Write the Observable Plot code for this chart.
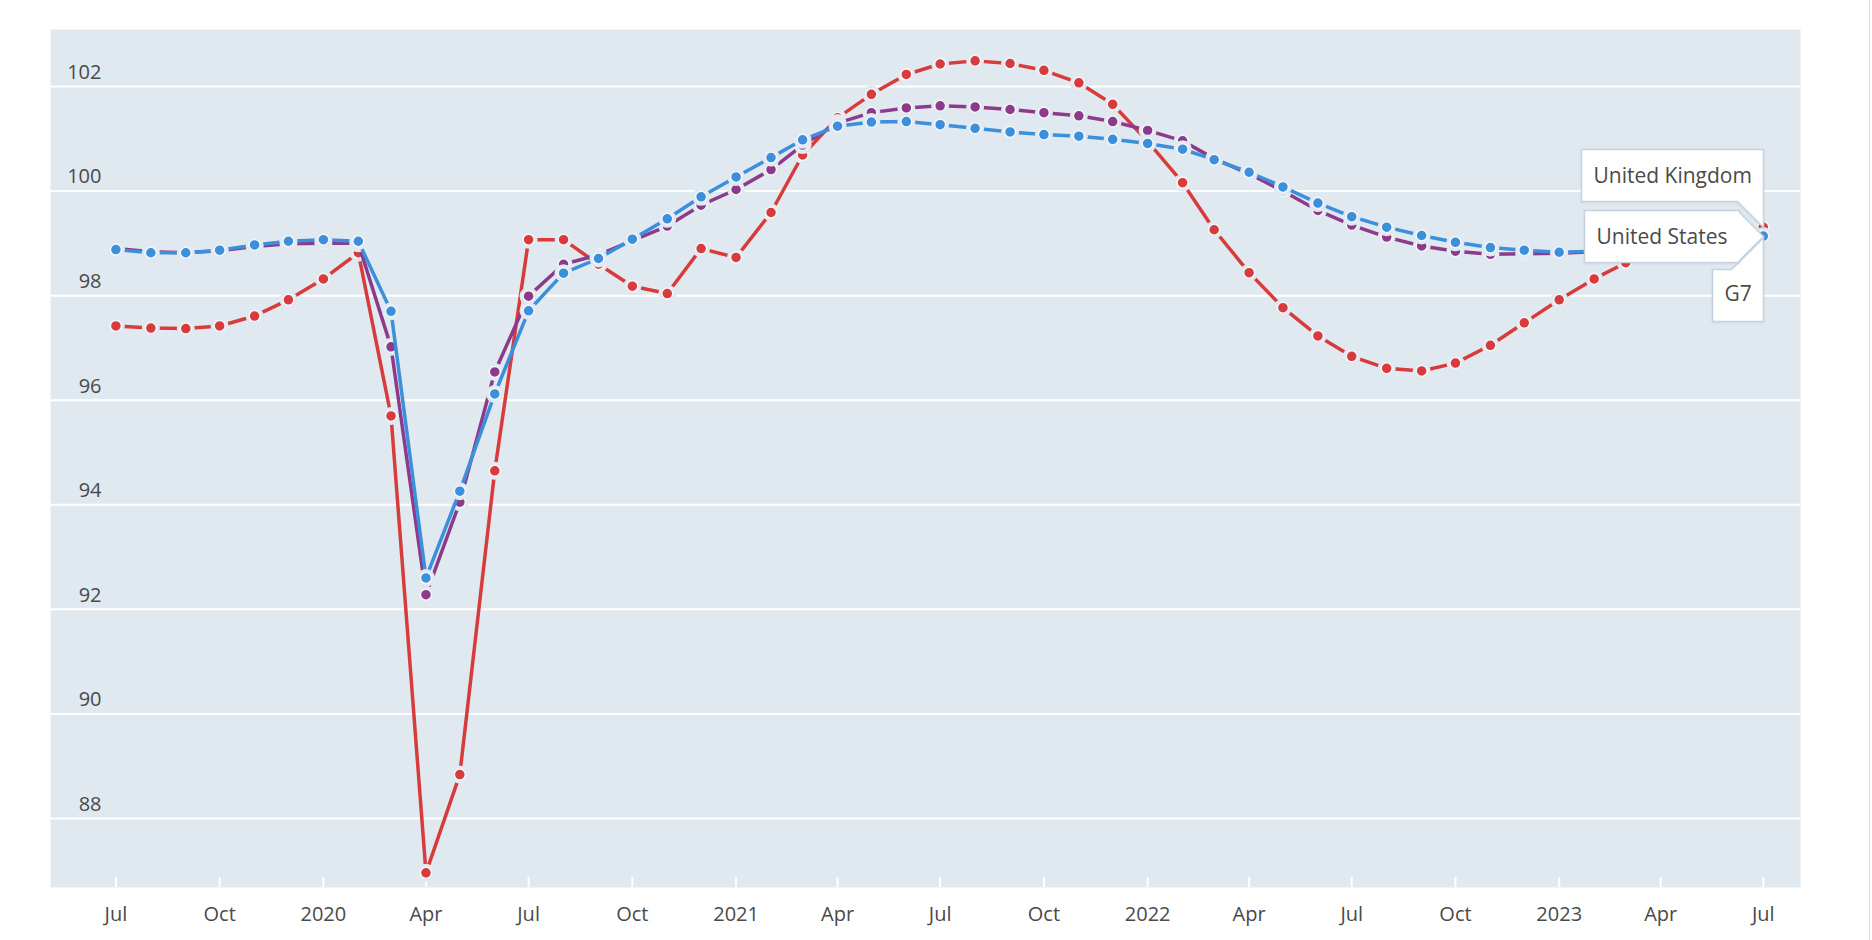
<!DOCTYPE html>
<html>
<head>
<meta charset="utf-8">
<script src="https://cdn.jsdelivr.net/npm/d3@7"></script>
<script src="https://cdn.jsdelivr.net/npm/@observablehq/plot@0.6"></script>
<style>
  html, body { margin: 0; padding: 0; background: #ffffff; }
  #chart { position: relative; width: 1872px; height: 940px; }
  #edge { position: absolute; left: 1869px; top: 0; width: 1px; height: 940px; background: #d9dde2; }
</style>
</head>
<body>
<div id="chart"><div id="edge"></div></div>
<script>
// ---- Data (monthly, Jul 2019 – Jul 2023) ----
const months = [
  "2019-07","2019-08","2019-09","2019-10","2019-11","2019-12",
  "2020-01","2020-02","2020-03","2020-04","2020-05","2020-06","2020-07","2020-08","2020-09","2020-10","2020-11","2020-12",
  "2021-01","2021-02","2021-03","2021-04","2021-05","2021-06","2021-07","2021-08","2021-09","2021-10","2021-11","2021-12",
  "2022-01","2022-02","2022-03","2022-04","2022-05","2022-06","2022-07","2022-08","2022-09","2022-10","2022-11","2022-12",
  "2023-01","2023-02","2023-03","2023-04","2023-05","2023-06","2023-07"
];

const ukValues = [
  97.42, 97.38, 97.37, 97.42, 97.61, 97.92,
  98.32, 98.82, 95.70, 86.96, 88.84, 94.65, 99.07, 99.07, 98.60, 98.18, 98.04, 98.90,
  98.73, 99.59, 100.69, 101.40, 101.85, 102.23, 102.43, 102.49, 102.44, 102.31, 102.07, 101.66,
  100.95, 100.16, 99.26, 98.44, 97.77, 97.23, 96.84, 96.61, 96.56, 96.71, 97.05, 97.48,
  97.92, 98.32, 98.63, 98.88, 99.06, 99.20, 99.31
];

const g7Values = [
  98.90, 98.84, 98.82, 98.86, 98.94, 98.99,
  99.00, 99.00, 97.02, 92.28, 94.05, 96.54, 97.99, 98.60, 98.78, 99.05, 99.33, 99.73,
  100.03, 100.41, 100.88, 101.30, 101.50, 101.59, 101.63, 101.61, 101.56, 101.50, 101.44, 101.33,
  101.16, 100.96, 100.62, 100.33, 100.00, 99.63, 99.35, 99.12, 98.95, 98.85, 98.79, 98.80,
  98.81, 98.84, 98.88, 98.94, 99.00, 99.06, 99.12
];

const usValues = [
  98.88, 98.82, 98.82, 98.87, 98.97, 99.04,
  99.07, 99.04, 97.70, 92.60, 94.26, 96.12, 97.71, 98.43, 98.71, 99.08, 99.47, 99.89,
  100.27, 100.64, 100.98, 101.24, 101.32, 101.33, 101.27, 101.20, 101.13, 101.08, 101.05, 100.99,
  100.91, 100.80, 100.60, 100.36, 100.08, 99.77, 99.51, 99.31, 99.15, 99.02, 98.92, 98.87,
  98.83, 98.85, 98.90, 98.96, 99.02, 99.08, 99.14
];

const seriesNames  = ["United Kingdom", "G7", "United States"];
const seriesColors = ["#d83b3b", "#8d3a8b", "#3b8fdb"];
const seriesValues = [ukValues, g7Values, usValues];
const tipAnchors   = ["bottom-right", "top-right", "right"];
const tipPointer   = [26, 32, 48];

const xTickDates  = ["2019-07-01","2019-10-01","2020-01-01","2020-04-01","2020-07-01","2020-10-01",
                     "2021-01-01","2021-04-01","2021-07-01","2021-10-01","2022-01-01","2022-04-01",
                     "2022-07-01","2022-10-01","2023-01-01","2023-04-01","2023-07-01"];
const xTickLabels = ["Jul","Oct","2020","Apr","Jul","Oct","2021","Apr","Jul","Oct","2022","Apr","Jul","Oct","2023","Apr","Jul"];
const yTicks = [88, 90, 92, 94, 96, 98, 100, 102];

// ---- Build table ----
const rows = seriesNames.flatMap((name, s) =>
  months.map((m, i) => ({name, date: new Date(m + "-01"), value: seriesValues[s][i]}))
);
const tickDates = xTickDates.map(d => new Date(d));
const labelByTime = new Map(tickDates.map((d, i) => [+d, xTickLabels[i]]));

const FONT = "'Open Sans', 'Noto Sans', sans-serif";
const BG = "#e1e9f0";

const seriesMarks = seriesNames.flatMap((name, s) => {
  const d = rows.filter(r => r.name === name);
  return [
    Plot.line(d, {x: "date", y: "value", stroke: seriesColors[s], strokeWidth: 3.5, strokeLinejoin: "round"}),
    Plot.dot(d, {x: "date", y: "value", r: 9, fill: BG, stroke: null}),
    Plot.dot(d, {x: "date", y: "value", r: 5.5, fill: seriesColors[s], stroke: "#f3f6fa", strokeWidth: 1.5})
  ];
});

const tipMarks = seriesNames.map((name, s) => {
  const d = rows.filter(r => r.name === name);
  const last = [d[d.length - 1]];
  return Plot.tip(last, {
    x: "date", y: "value", title: "name",
    anchor: tipAnchors[s], pointerSize: tipPointer[s],
    fontSize: 21, fontFamily: FONT, textPadding: 12,
    fill: "white", stroke: "#c6d3de", strokeWidth: 1.5,
    pathFilter: "drop-shadow(0 1px 1px rgba(0,0,0,0.06))"
  });
});

const chart = Plot.plot({
  width: 1872,
  height: 940,
  marginLeft: 50,
  marginRight: 72,
  marginTop: 29,
  marginBottom: 53,
  style: {fontFamily: FONT, fontSize: "20px", color: "#4a4a4a", background: "white", overflow: "visible"},
  x: {type: "utc", domain: [new Date("2019-05-04"), new Date("2023-08-03")]},
  y: {domain: [86.68, 103.09]},
  marks: [
    Plot.frame({fill: BG, stroke: null}),
    Plot.gridY(yTicks, {stroke: "white", strokeWidth: 2, strokeOpacity: 1}),
    Plot.axisX(tickDates, {tickSize: 10, dy: -10, stroke: "white", strokeWidth: 2, fill: "none", tickFormat: () => ""}),
    ...seriesMarks,
    Plot.axisY(yTicks, {tickSize: 0, tickPadding: 3, dx: 54, dy: -14, textAnchor: "end", fontSize: 20, fill: "#4a4a4a", tickFormat: d => String(d), label: null}),
    Plot.axisX(tickDates, {tickSize: 0, tickPadding: 19, fontSize: 20, fill: "#4a4a4a", tickFormat: d => labelByTime.get(+d), label: null}),
    ...tipMarks
  ]
});

document.getElementById("chart").appendChild(chart);
</script>
</body>
</html>
